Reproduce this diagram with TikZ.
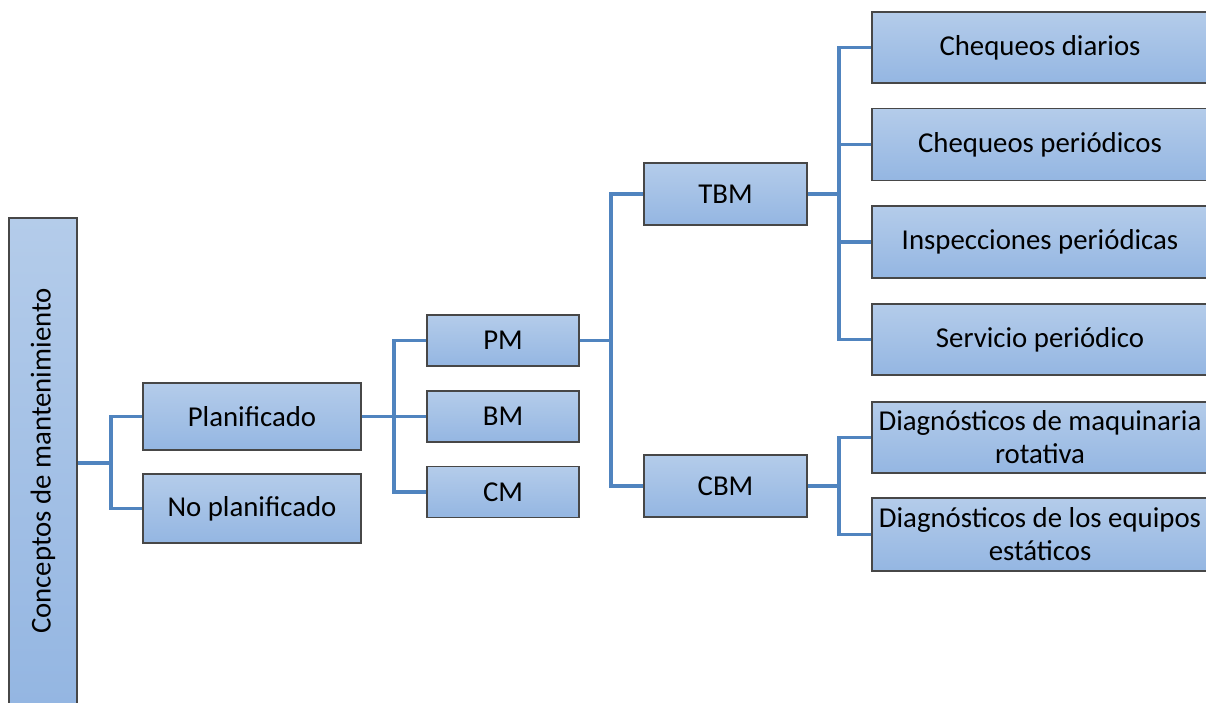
\documentclass[tikz,border=0pt]{standalone}
\usepackage{fontspec}
\setmainfont{Carlito}
\begin{document}
\begin{tikzpicture}[x=1pt,y=-1pt,
  box/.style={draw=black!72, line width=1.3pt, inner sep=0pt,
    top color=boxtop, bottom color=boxbot, align=center,
    font=\fontsize{28.8}{33}\selectfont},
  conn/.style={draw=connblue, line width=3.4pt}]
\definecolor{boxtop}{RGB}{180,204,234}
\definecolor{boxbot}{RGB}{148,182,226}
\definecolor{connblue}{RGB}{80,132,191}
\clip (0,0) rectangle (1206,702);
\useasboundingbox (0,0) rectangle (1206,702);

% boxes
\node[box, minimum width=68pt, minimum height=486pt] (root) at (43,461)
  {\rotatebox{90}{Conceptos de mantenimiento}};
\node[box, minimum width=218pt, minimum height=67pt] (plan) at (252,416.5) {Planificado};
\node[box, minimum width=218pt, minimum height=69pt] (noplan) at (252,508.5) {No planificado};
\node[box, minimum width=152pt, minimum height=51pt] (pm) at (503,340.5) {PM};
\node[box, minimum width=152pt, minimum height=51pt] (bm) at (503,416.5) {BM};
\node[box, minimum width=152pt, minimum height=51pt] (cm) at (503,492) {CM};
\node[box, minimum width=163pt, minimum height=62pt] (tbm) at (725.5,194) {TBM};
\node[box, minimum width=163pt, minimum height=62pt] (cbm) at (725.5,486) {CBM};
\node[box, minimum width=336pt, minimum height=71pt] (c1) at (1040,47.5) {Chequeos diarios};
\node[box, minimum width=336pt, minimum height=72pt] (c2) at (1040,144.5) {Chequeos periódicos};
\node[box, minimum width=336pt, minimum height=72pt] (c3) at (1040,242) {Inspecciones periódicas};
\node[box, minimum width=336pt, minimum height=71pt] (c4) at (1040,339.5) {Servicio periódico};
\node[box, minimum width=336pt, minimum height=71pt] (d1) at (1040,437.5) {Diagnósticos de maquinaria\\rotativa};
\node[box, minimum width=336pt, minimum height=73pt] (d2) at (1040,534.5) {Diagnósticos de los equipos\\estáticos};

% junction points of the connectors
\coordinate (j1) at (111,463);
\coordinate (j2) at (394,416.5);
\coordinate (j3) at (611,340.5);
\coordinate (j4) at (839,194);
\coordinate (j5) at (839,486);

% connectors
\draw[conn] (root.east |- j1) -- (j1);
\draw[conn] (plan.west) -| (j1) |- (noplan.west);
\draw[conn] (plan.east) -- (j2);
\draw[conn] (pm.west) -| (j2) |- (cm.west);
\draw[conn] (j2) -- (bm.west);
\draw[conn] (pm.east) -- (j3);
\draw[conn] (tbm.west) -| (j3) |- (cbm.west);
\draw[conn] (tbm.east) -- (j4);
\draw[conn] (c1.west) -| (j4) |- (c4.west);
\draw[conn] (c2.west -| j4) -- (c2.west);
\draw[conn] (c3.west -| j4) -- (c3.west);
\draw[conn] (cbm.east) -- (j5);
\draw[conn] (d1.west) -| (j5) |- (d2.west);
\end{tikzpicture}
\end{document}
